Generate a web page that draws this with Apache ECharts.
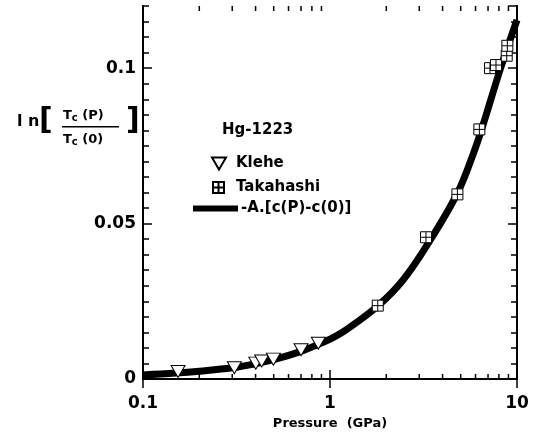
<!DOCTYPE html>
<html>
<head>
<meta charset="utf-8">
<script src="https://cdn.jsdelivr.net/npm/echarts@6/dist/echarts.min.js"></script>
<style>html,body{margin:0;padding:0;background:#fff;}#chart{width:542px;height:439px;}</style>
</head>
<body>
<div id="chart"></div>
<script>
// ---- data ----
var curveP = [0.1, 0.15, 0.2, 0.3, 0.4, 0.5, 0.7, 0.87, 1.0, 1.23, 1.81, 2.47, 3.5, 4.8, 5.8, 6.47, 8.2, 10];
var curveV = [0.0013, 0.0019, 0.0025, 0.0036, 0.0049, 0.0062, 0.0089, 0.0112, 0.0128, 0.0160, 0.0236, 0.0320, 0.0455, 0.0598, 0.0720, 0.0803, 0.1003, 0.1155];
var klehP = [0.154, 0.308, 0.401, 0.431, 0.498, 0.700, 0.866];
var klehV = [0.0024, 0.0036, 0.0051, 0.0058, 0.0064, 0.0094, 0.0115];
var takaP = [1.80, 3.26, 4.80, 6.29, 7.17, 7.72, 8.81, 8.88];
var takaV = [0.0236, 0.0456, 0.0594, 0.0803, 0.1000, 0.1010, 0.1040, 0.1072];
var xMinorTicks = [0.2, 0.3, 0.4, 0.5, 0.6, 0.7, 0.8, 0.9, 2, 3, 4, 5, 6, 7, 8, 9];
var seriesNames = ['Klehe', 'Takahashi', '-A.[c(P)-c(0)]'];
var titleText = 'Hg-1223';
var xTitle = 'Pressure  (GPa)';

function zip(a, b) { return a.map(function (v, i) { return [v, b[i]]; }); }

var FONT = 'DejaVu Sans';
var chart = echarts.init(document.getElementById('chart'), null, { renderer: 'canvas' });
var axisLineStyle = { show: true, lineStyle: { color: '#000', width: 2 } };
var YMAX = 0.12;

function yAx(pos, interval, tickLen, labels) {
  return {
    type: 'value', position: pos, min: 0, max: YMAX, interval: interval,
    axisLine: axisLineStyle,
    axisTick: { show: true, inside: true, length: tickLen, lineStyle: { color: '#000', width: 1.5 } },
    axisLabel: labels ? {
      show: true, showMaxLabel: false, margin: 7, color: '#000',
      fontFamily: FONT, fontWeight: 'bold', fontSize: 17,
      formatter: function (v) { return v === 0 ? '0' : String(+v.toFixed(3)); }
    } : { show: false },
    splitLine: { show: false }
  };
}

var legendText = { fontFamily: FONT, fontWeight: 'bold', fontSize: 15, color: '#000' };

var option = {
  animation: false,
  backgroundColor: '#fff',
  title: {
    text: titleText, left: 217, top: 118,
    textStyle: { fontFamily: FONT, fontWeight: 'bold', fontSize: 15, color: '#000' }
  },
  legend: [
    { data: [seriesNames[0]], left: 206, top: 151, itemWidth: 14, itemHeight: 12,
      textStyle: Object.assign({ padding: [0, 0, 0, 5] }, legendText) },
    { data: [seriesNames[1]], left: 207, top: 175, itemWidth: 11, itemHeight: 11,
      textStyle: Object.assign({ padding: [0, 0, 0, 7] }, legendText) },
    { data: [{ name: seriesNames[2], icon: 'rect' }], left: 188, top: 196, itemWidth: 45, itemHeight: 6,
      textStyle: Object.assign({ padding: [0, 0, 0, -2] }, legendText) }
  ],
  grid: { left: 143, right: 25, top: 6, bottom: 60, containLabel: false },
  xAxis: [
    {
      type: 'log', logBase: 10, min: 0.1, max: 10, position: 'bottom',
      axisLine: axisLineStyle,
      axisTick: { show: true, inside: true, length: 9, lineStyle: { color: '#000', width: 1.5 } },
      axisLabel: { show: true, margin: 16, color: '#000', fontFamily: FONT, fontWeight: 'bold', fontSize: 17,
        formatter: function (v) { return String(+(+v).toPrecision(3)); } },
      splitLine: { show: false },
      name: xTitle, nameLocation: 'middle', nameGap: 36,
      nameTextStyle: { fontFamily: FONT, fontWeight: 'bold', fontSize: 13, color: '#000' }
    },
    {
      type: 'log', logBase: 10, min: 0.1, max: 10, position: 'top',
      axisLine: axisLineStyle,
      axisTick: { show: true, inside: true, length: 9, lineStyle: { color: '#000', width: 1.5 } },
      axisLabel: { show: false }, splitLine: { show: false }
    }
  ],
  yAxis: [
    yAx('left', 0.05, 9, true),
    yAx('left', 0.005, 6, false),
    yAx('right', 0.05, 9, false),
    yAx('right', 0.005, 6, false)
  ],
  graphic: [
    { type: 'text', left: 17, top: 114, style: { text: 'l n', fontFamily: FONT, fontWeight: 'bold', fontSize: 16, fill: '#000' } },
    { type: 'text', left: 39, top: 106, style: { text: '[', fontFamily: FONT, fontWeight: 'bold', fontSize: 30, fill: '#000' } },
    { type: 'text', left: 126, top: 106, style: { text: ']', fontFamily: FONT, fontWeight: 'bold', fontSize: 30, fill: '#000' } },
    { type: 'text', left: 63, top: 109, style: {
        text: '{t|T}{s|c}{t| (P)}', rich: {
          t: { fontFamily: FONT, fontWeight: 'bold', fontSize: 13, fill: '#000' },
          s: { fontFamily: FONT, fontWeight: 'bold', fontSize: 10, fill: '#000', padding: [5, 0, 0, 0] } } } },
    { type: 'rect', shape: { x: 62, y: 126, width: 57, height: 1.6 }, style: { fill: '#000' } },
    { type: 'text', left: 63, top: 133, style: {
        text: '{t|T}{s|c}{t| (0)}', rich: {
          t: { fontFamily: FONT, fontWeight: 'bold', fontSize: 13, fill: '#000' },
          s: { fontFamily: FONT, fontWeight: 'bold', fontSize: 10, fill: '#000', padding: [5, 0, 0, 0] } } } }
  ],
  series: [
    {
      name: seriesNames[2], type: 'line', data: zip(curveP, curveV), smooth: 0.4,
      symbol: 'none', z: 2, itemStyle: { color: '#000' },
      lineStyle: { color: '#000', width: 7 }
    },
    {
      name: seriesNames[0], type: 'scatter', data: zip(klehP, klehV), z: 4,
      symbol: 'path://M0,0L14,0L7,12Z', symbolSize: [14, 12],
      itemStyle: { color: '#fff', borderColor: '#000', borderWidth: 1, opacity: 1 }
    },
    {
      name: seriesNames[1], type: 'scatter', data: zip(takaP, takaV), z: 4,
      symbol: 'path://M0,0L10,0L10,10L0,10Z M5,0L5,10 M0,5L10,5', symbolSize: 11,
      itemStyle: { color: '#fff', borderColor: '#000', borderWidth: 1, opacity: 1 }
    },
    {
      type: 'custom', silent: true, z: 3, clip: false,
      data: xMinorTicks.map(function (v) { return [v, 0]; }),
      encode: { x: 0, y: 1 },
      renderItem: function (params, api) {
        var v = api.value(0);
        var pb = api.coord([v, 0]);
        var pt = api.coord([v, YMAX]);
        var st = { stroke: '#000', lineWidth: 1.5 };
        return { type: 'group', children: [
          { type: 'line', shape: { x1: pb[0], y1: pb[1], x2: pb[0], y2: pb[1] - 5 }, style: st },
          { type: 'line', shape: { x1: pt[0], y1: pt[1], x2: pt[0], y2: pt[1] + 5 }, style: st }
        ] };
      }
    }
  ]
};
chart.setOption(option);
</script>
</body>
</html>
